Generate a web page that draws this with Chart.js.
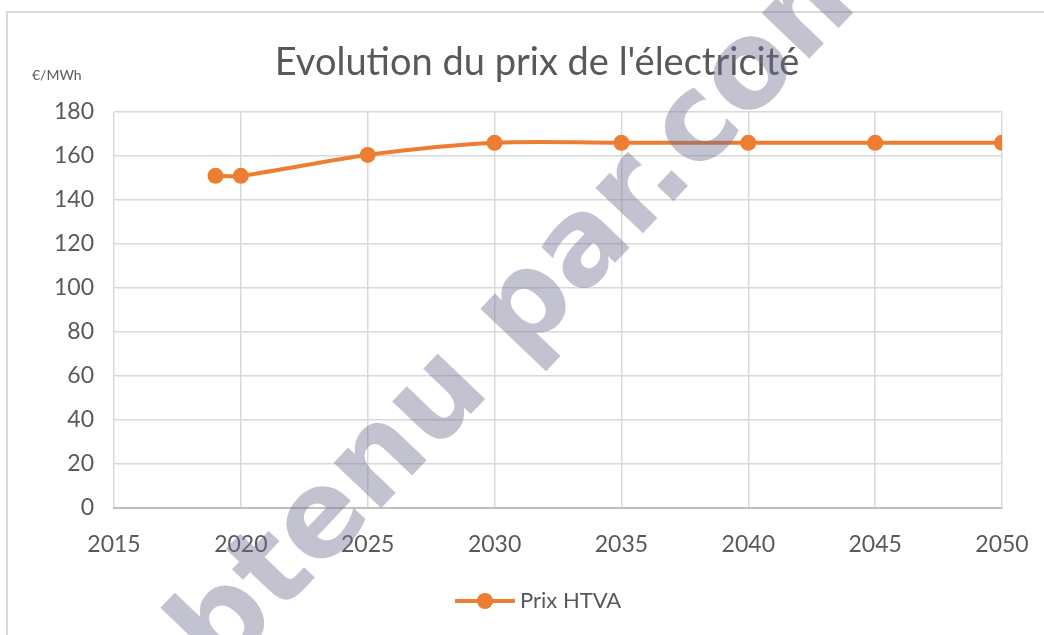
<!DOCTYPE html>
<html><head><meta charset="utf-8">
<script src="https://cdn.jsdelivr.net/npm/chart.js@4.4.0/dist/chart.umd.min.js"></script>
<style>html,body{margin:0;padding:0;background:#fff;}#wrap{width:1044px;height:635px;}</style>
</head><body><div id="wrap"><canvas id="c" width="1044" height="635"></canvas></div>
<script>
const years = [2019, 2020, 2025, 2030, 2035, 2040, 2045, 2050];
const prixHTVA = [151, 151, 160.5, 166, 166, 166, 166, 166];
const seriesName = 'Prix HTVA';
const chartTitle = "Evolution du prix de l'électricité";
const unitLabel = '€/MWh';
const watermarkText = 'obtenu par.com';
const xMin = 2015, xMax = 2050, xStep = 5;
const yMin = 0, yMax = 180, yStep = 20;

const ORANGE = '#ED7D31';
const TXT = '#595959';
const GRID = '#d9d9d9';
const FONT = 'Lato, "Open Sans", sans-serif';

const framePlugin = {
  id: 'frame',
  beforeDraw(chart) {
    const ctx = chart.ctx;
    ctx.save();
    ctx.fillStyle = '#fff';
    ctx.fillRect(0, 0, chart.width, chart.height);
    ctx.strokeStyle = GRID;
    ctx.lineWidth = 2;
    ctx.beginPath();
    ctx.moveTo(7, chart.height + 5);
    ctx.lineTo(7, 12);
    ctx.lineTo(chart.width + 5, 12);
    ctx.stroke();
    // title
    ctx.fillStyle = TXT;
    ctx.font = '38px ' + FONT;
    ctx.textAlign = 'center';
    ctx.textBaseline = 'middle';
    ctx.fillText(chartTitle, 537, 63);
    ctx.restore();
  },
  afterDraw(chart) {
    const ctx = chart.ctx;
    ctx.save();
    // unit label
    ctx.fillStyle = TXT;
    ctx.font = '14px ' + FONT;
    ctx.textBaseline = 'middle';
    ctx.textAlign = 'left';
    ctx.fillText(unitLabel, 32, 75);
    // legend
    const ly = 601;
    ctx.strokeStyle = ORANGE;
    ctx.lineWidth = 4;
    ctx.beginPath();
    ctx.moveTo(455, ly); ctx.lineTo(515, ly);
    ctx.stroke();
    ctx.fillStyle = ORANGE;
    ctx.beginPath();
    ctx.arc(485, ly, 8, 0, Math.PI * 2);
    ctx.fill();
    ctx.fillStyle = TXT;
    ctx.font = '22px ' + FONT;
    ctx.fillText(chart.data.datasets[0].label, 520, ly);
    // watermark
    ctx.translate(503, 335);
    ctx.rotate(-46.4 * Math.PI / 180);
    ctx.font = 'bold 120px "DejaVu Sans", sans-serif';
    ctx.textAlign = 'center';
    ctx.textBaseline = 'middle';
    ctx.fillStyle = 'rgba(110,110,145,0.42)';
    ctx.fillText(watermarkText, 0, 0);
    ctx.restore();
  }
};

new Chart(document.getElementById('c'), {
  type: 'line',
  data: {
    datasets: [{
      label: seriesName,
      data: years.map((y, i) => ({ x: y, y: prixHTVA[i] })),
      borderColor: ORANGE,
      backgroundColor: ORANGE,
      borderWidth: 4,
      pointRadius: 8,
      pointHoverRadius: 8,
      pointBackgroundColor: ORANGE,
      pointBorderWidth: 0,
      tension: 0.35,
      fill: false
    }]
  },
  options: {
    responsive: false,
    devicePixelRatio: 1,
    animation: false,
    events: [],
    layout: { padding: { left: 30, right: 42, top: 112, bottom: 0 } },
    plugins: {
      legend: { display: false },
      tooltip: { enabled: false },
      title: { display: false }
    },
    scales: {
      x: {
        type: 'linear',
        min: xMin, max: xMax,
        afterFit(scale) { scale.height = 127; },
        ticks: {
          stepSize: xStep,
          color: TXT,
          font: { family: FONT, size: 23 },
          padding: 14,
          maxRotation: 0,
          callback: v => String(v)
        },
        grid: { color: GRID, lineWidth: 1.5, drawTicks: true, tickLength: 9, tickColor: 'rgba(0,0,0,0)' },
        border: { color: '#bfbfbf', width: 2 }
      },
      y: {
        min: yMin, max: yMax,
        afterFit(scale) { scale.width = 84; },
        ticks: {
          stepSize: yStep,
          color: TXT,
          font: { family: FONT, size: 23 },
          padding: 20
        },
        grid: { color: GRID, lineWidth: 1.5, drawTicks: false },
        border: { display: false }
      }
    }
  },
  plugins: [framePlugin]
});
</script>
</body></html>
